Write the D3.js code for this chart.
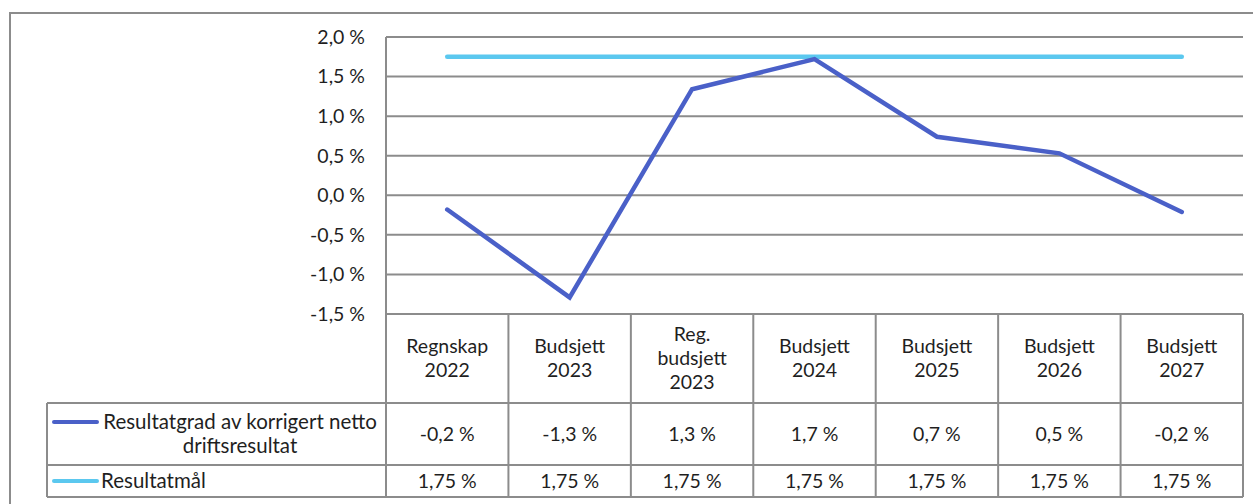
<!DOCTYPE html>
<html>
<head>
<meta charset="utf-8">
<script src="https://cdn.jsdelivr.net/npm/d3@7"></script>
<style>
  body { margin: 0; background: #fff; }
  svg text { font-family: Lato, "Open Sans", sans-serif; fill: #1f1f1f; }
</style>
</head>
<body>
<div id="chart"></div>
<script>
  // data
  var categories = [
    ["Regnskap", "2022"],
    ["Budsjett", "2023"],
    ["Reg.", "budsjett", "2023"],
    ["Budsjett", "2024"],
    ["Budsjett", "2025"],
    ["Budsjett", "2026"],
    ["Budsjett", "2027"]
  ];
  var resultatgrad = [-0.18, -1.29, 1.34, 1.72, 0.74, 0.53, -0.21];
  var resultatgradLabels = ["-0,2 %", "-1,3 %", "1,3 %", "1,7 %", "0,7 %", "0,5 %", "-0,2 %"];
  var resultatmal = [1.75, 1.75, 1.75, 1.75, 1.75, 1.75, 1.75];
  var resultatmalLabels = ["1,75 %", "1,75 %", "1,75 %", "1,75 %", "1,75 %", "1,75 %", "1,75 %"];
  var yTicks = [2.0, 1.5, 1.0, 0.5, 0.0, -0.5, -1.0, -1.5];
  var seriesNames = [["Resultatgrad av korrigert netto", "driftsresultat"], ["Resultatmål"]];

  var W = 1253, H = 504;
  var gridColor = "#8c8c8c";
  var blue = "#4a60c8", lightBlue = "#5bc8ef";
  var fontSize = "19.5px";

  var svg = d3.select("#chart").append("svg")
    .attr("width", W).attr("height", H);

  var nb = d3.formatLocale({decimal: ",", thousands: " ", grouping: [3], currency: ["", ""], minus: "-"});
  var fmt = nb.format(".1f");

  var x = d3.scaleBand().domain(d3.range(categories.length)).range([386, 1243]).padding(0);
  var y = d3.scaleLinear().domain([-1.5, 2]).range([314, 37]);

  // outer frame (runs off to the right and bottom)
  svg.append("path")
    .attr("d", "M10," + (H + 5) + "V13H" + (W + 5))
    .attr("fill", "none").attr("stroke", gridColor).attr("stroke-width", 2);

  // horizontal gridlines
  svg.append("g").selectAll("line").data(yTicks).join("line")
    .attr("x1", 386).attr("x2", 1243)
    .attr("y1", function(d){ return y(d); }).attr("y2", function(d){ return y(d); })
    .attr("stroke", gridColor).attr("stroke-width", 2);

  // y axis line
  svg.append("line").attr("x1", 386).attr("x2", 386)
    .attr("y1", y(2)).attr("y2", 497)
    .attr("stroke", gridColor).attr("stroke-width", 2);

  // y tick labels
  svg.append("g").selectAll("text").data(yTicks).join("text")
    .attr("x", 365).attr("y", function(d){ return y(d); })
    .attr("dy", "0.35em").attr("text-anchor", "end")
    .style("font-size", fontSize)
    .text(function(d){ return fmt(d) + " %"; });

  // table
  var table = svg.append("g");
  var rowTop = 403, row2Top = 465, tableBottom = 497;
  // cell borders for the category columns
  d3.range(categories.length + 1).forEach(function(i){
    var xx = i < categories.length ? x(i) : x.range()[1];
    table.append("line").attr("x1", xx).attr("x2", xx)
      .attr("y1", 314).attr("y2", tableBottom)
      .attr("stroke", gridColor).attr("stroke-width", 2);
  });
  [rowTop, row2Top, tableBottom].forEach(function(yy){
    table.append("line").attr("x1", 47).attr("x2", 1243)
      .attr("y1", yy).attr("y2", yy)
      .attr("stroke", gridColor).attr("stroke-width", 2);
  });
  table.append("line").attr("x1", 47).attr("x2", 47)
    .attr("y1", rowTop).attr("y2", tableBottom)
    .attr("stroke", gridColor).attr("stroke-width", 2);

  // header labels
  categories.forEach(function(lines, i){
    var cx = x(i) + x.bandwidth() / 2;
    var cy = (314 + rowTop) / 2;
    var lh = 24;
    var t = table.append("text").attr("text-anchor", "middle").style("font-size", fontSize);
    lines.forEach(function(s, k){
      t.append("tspan").attr("x", cx)
        .attr("y", cy + (k - (lines.length - 1) / 2) * lh)
        .attr("dy", "0.35em").text(s);
    });
  });

  // value rows
  var rows = [
    {labels: resultatgradLabels, top: rowTop, bottom: row2Top},
    {labels: resultatmalLabels, top: row2Top, bottom: tableBottom}
  ];
  rows.forEach(function(r){
    table.append("g").selectAll("text").data(r.labels).join("text")
      .attr("x", function(d, i){ return x(i) + x.bandwidth() / 2; })
      .attr("y", (r.top + r.bottom) / 2).attr("dy", "0.35em")
      .attr("text-anchor", "middle").style("font-size", fontSize)
      .text(function(d){ return d; });
  });

  // legend cells
  var legendColors = [blue, lightBlue];
  rows.forEach(function(r, k){
    var cy = (r.top + r.bottom) / 2;
    var lines = seriesNames[k];
    var firstY = cy - (lines.length - 1) * 12;
    table.append("line").attr("x1", 54).attr("x2", 97)
      .attr("y1", firstY).attr("y2", firstY)
      .attr("stroke", legendColors[k]).attr("stroke-width", 4).attr("stroke-linecap", "round");
    var t = table.append("text").style("font-size", "20.5px");
    if (lines.length > 1) {
      t.attr("text-anchor", "middle");
      lines.forEach(function(s, j){
        t.append("tspan").attr("x", 240).attr("y", firstY + j * 24).attr("dy", "0.35em").text(s);
      });
    } else {
      t.attr("x", 101).attr("y", cy).attr("dy", "0.35em").text(lines[0]);
    }
  });

  // series lines
  var line = d3.line()
    .x(function(d, i){ return x(i) + x.bandwidth() / 2; })
    .y(function(d){ return y(d); });

  svg.append("path").datum(resultatmal)
    .attr("d", line).attr("fill", "none")
    .attr("stroke", lightBlue).attr("stroke-width", 4.5).attr("stroke-linecap", "round");

  svg.append("path").datum(resultatgrad)
    .attr("d", line).attr("fill", "none")
    .attr("stroke", blue).attr("stroke-width", 4.5)
    .attr("stroke-linecap", "round").attr("stroke-linejoin", "miter");
</script>
</body>
</html>
